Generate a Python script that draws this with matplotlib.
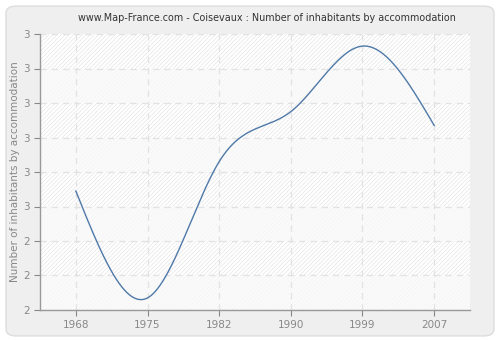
import numpy as np
import matplotlib
matplotlib.use("Agg")
import matplotlib.pyplot as plt
from matplotlib.patches import FancyBboxPatch, Rectangle

years = ["1968", "1975", "1982", "1990", "1999", "2007"]
values = [2.69, 2.07, 2.86, 3.15, 3.53, 3.07]
y_ticks = [2.0, 2.2, 2.4, 2.6, 2.8, 3.0, 3.2, 3.4, 3.6]
y_tick_labels = ["2", "2", "2", "3", "3", "3", "3", "3", "3"]

title = "www.Map-France.com - Coisevaux : Number of inhabitants by accommodation"
ylabel = "Number of inhabitants by accommodation"


def natural_spline(x, y, xs):
    x = np.asarray(x, float); y = np.asarray(y, float)
    n = len(x)
    h = np.diff(x)
    A = np.zeros((n, n)); b = np.zeros(n)
    A[0, 0] = 1; A[-1, -1] = 1
    for i in range(1, n - 1):
        A[i, i - 1] = h[i - 1]
        A[i, i] = 2 * (h[i - 1] + h[i])
        A[i, i + 1] = h[i]
        b[i] = 3 * ((y[i + 1] - y[i]) / h[i] - (y[i] - y[i - 1]) / h[i - 1])
    c = np.linalg.solve(A, b)
    out = np.empty_like(xs)
    for k, xv in enumerate(xs):
        i = min(max(np.searchsorted(x, xv) - 1, 0), n - 2)
        dx = xv - x[i]
        bi = (y[i + 1] - y[i]) / h[i] - h[i] * (2 * c[i] + c[i + 1]) / 3
        di = (c[i + 1] - c[i]) / (3 * h[i])
        out[k] = y[i] + bi * dx + c[i] * dx ** 2 + di * dx ** 3
    return out


fig = plt.figure(figsize=(5, 3.4), dpi=100)
fig.patch.set_facecolor("white")
fig.patches.append(FancyBboxPatch((0.012, 0.012), 0.976, 0.97, boxstyle="round,pad=0,rounding_size=0.02",
                                  transform=fig.transFigure, facecolor="#efefef", edgecolor="#dddddd",
                                  linewidth=1, zorder=-10))

ax = fig.add_axes([40 / 500, 1 - 310 / 340, 430 / 500, 276 / 340])
ax.set_facecolor("white")
xi = np.arange(len(years))
ax.set_xlim(-0.5, len(years) - 0.5)
ax.set_ylim(y_ticks[0], y_ticks[-1])

plt.rcParams["hatch.linewidth"] = 0.4
ax.add_patch(Rectangle((0, 0), 1, 1, transform=ax.transAxes, facecolor="white",
                       edgecolor="#e0e0e0", hatch="////////", linewidth=0, zorder=0))
for i in range(len(y_ticks) - 1):
    if i % 2 == 0:
        ax.axhspan(y_ticks[i], y_ticks[i + 1], facecolor="#f9f9f9", alpha=0.8, linewidth=0, zorder=0.5)

ax.grid(True, color="#e2e2e2", linestyle=(0, (5, 4)), linewidth=0.9, zorder=1)
ax.set_axisbelow(True)

xs = np.linspace(0, len(years) - 1, 400)
ax.plot(xs, natural_spline(xi, values, xs), color="#4f79a8", linewidth=1.0, zorder=3)

ax.set_xticks(xi)
ax.set_xticklabels(years)
ax.set_yticks(y_ticks)
ax.set_yticklabels(y_tick_labels)
ax.tick_params(colors="#888888", labelsize=7.5, length=4, width=0.8, labelcolor="#888888")
for s in ["top", "right"]:
    ax.spines[s].set_visible(False)
for s in ["left", "bottom"]:
    ax.spines[s].set_color("#999999")
    ax.spines[s].set_linewidth(1)

ax.set_ylabel(ylabel, color="#888888", fontsize=7.5, labelpad=2)
fig.text(267 / 500, 1 - 18 / 340, title, ha="center", va="center", fontsize=6.9, color="#333333")

fig.savefig("out.png", dpi=100, facecolor=fig.get_facecolor())
